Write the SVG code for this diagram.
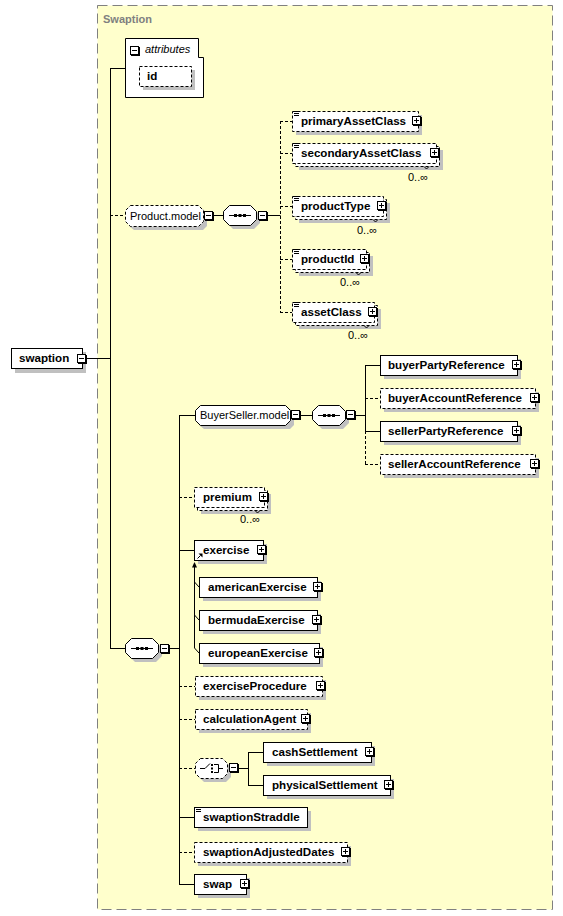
<svg xmlns="http://www.w3.org/2000/svg" xmlns:xlink="http://www.w3.org/1999/xlink" width="563" height="916" viewBox="0 0 563 916">
<style>
.bg{fill:#FFFFCC;stroke:#808080;stroke-dasharray:10 5}
.b{fill:#fff;stroke:#000}
.o{stroke-dasharray:3 2}
.sh{fill:#C0C0C0}
.t{font-family:"Liberation Sans",Arial,sans-serif;font-size:11.6px;font-weight:bold;fill:#000}
.n{font-family:"Liberation Sans",Arial,sans-serif;font-size:11px;fill:#000}
.c{fill:none;stroke:#000}
.d{stroke-dasharray:3 2}
</style>
<defs>
<g id="pl"><rect x="1" y="1" width="9" height="9" fill="#000"/><rect x="0.5" y="0.5" width="8" height="8" fill="#fff" stroke="#000"/><path d="M2 4.5H7M4.5 2V7" stroke="#000"/></g>
<g id="mi"><rect x="1" y="1" width="9" height="9" fill="#000"/><rect x="0.5" y="0.5" width="8" height="8" fill="#fff" stroke="#000"/><path d="M2 4.5H7" stroke="#000"/></g>
<g id="eq"><path d="M2 0.5H7M2 2.5H7M2 4.5H7" stroke="#000"/></g>
<g id="seq"><path class="sh" d="M10 4H31L37 10V18L31 24H10L4 18V10Z"/><path class="b" d="M6.5 0.5H27.5L33.5 6.5V14.5L27.5 20.5H6.5L0.5 14.5V6.5Z"/><path d="M6 10.5H28" stroke="#000"/><rect x="11" y="9" width="3" height="3"/><rect x="15.5" y="9" width="3" height="3"/><rect x="20" y="9" width="3" height="3"/></g>
</defs>
<rect class="bg" x="97.5" y="5.5" width="455" height="904"/>
<text x="103" y="23" style="font-family:'Liberation Sans',Arial,sans-serif;font-size:11px;font-weight:bold;fill:#808080">Swaption</text>

<g id="connectors">
<path class="c" d="M86 358.5H110.5M110.5 68V648M110 68.5H125M110 648.5H125M213 215.5H223M267 215.5H280.5"/>
<path class="c d" d="M110 215.5H125M280.5 121V312M280 121.5H292M280 153.5H292M280 206.5H292M280 259.5H292M280 312.5H292"/>
<path class="c" d="M169 648.5H179.5M179.5 415V884M179 415.5H195M179 550.5H194M179 817.5H194M179 884.5H194"/>
<path class="c d" d="M179 497.5H194M179 686.5H195M179 719.5H195M179 768.5H195M179 852.5H194"/>
<path class="c" d="M300 415.5H312M355 415.5H365.5M365.5 365V431M365 365.5H380M365 431.5H380"/>
<path class="c d" d="M365.5 431V464M365 398.5H380M365 464.5H380"/>
<path class="c" d="M238 768.5H248.5M248.5 752V785M248 752.5H263M248 785.5H263"/>
<path d="M194.5 562L192 567.5H197Z" fill="#000"/>
<path class="c" d="M194.5 566V648M194.5 582L199 587M194.5 615L199 620M194.5 648L199 653"/>
</g>

<g id="swaption">
<rect class="sh" x="15" y="352" width="71" height="21"/>
<rect class="b" x="11.5" y="348.5" width="71" height="20"/>
<text class="t" x="19" y="362">swaption</text>
<use xlink:href="#mi" x="77" y="354"/>
</g>

<g id="attributes">
<path class="b" d="M125.5 38.5H198.5V57.5H203.5V97.5H125.5Z"/>
<use xlink:href="#mi" x="130" y="46"/>
<text class="n" x="145" y="53" font-style="italic">attributes</text>
<rect class="sh" x="143" y="70" width="52" height="20"/>
<rect class="b o" x="139.5" y="66.5" width="52" height="20"/>
<text class="t" x="147" y="80">id</text>
</g>

<g id="product-model">
<path class="sh" d="M134 209H203L207 214V226L203 230H134L129 226V214Z"/>
<path class="b o" d="M130.5 205.5H198.5L203.5 210.5V221.5L198.5 226.5H130.5L125.5 221.5V210.5Z"/>
<text class="n" x="130" y="220">Product.model</text>
<use xlink:href="#mi" x="204" y="211"/>
<use xlink:href="#seq" x="223" y="205"/>
<use xlink:href="#mi" x="258" y="211"/>
</g>

<g id="primaryAssetClass">
<rect class="sh" x="296" y="115" width="126" height="20"/>
<rect class="b o" x="292.5" y="111.5" width="126" height="20"/>
<use xlink:href="#eq" x="292" y="111"/>
<text class="t" x="301" y="125">primaryAssetClass</text>
<use xlink:href="#pl" x="412" y="116"/>
</g>

<g id="secondaryAssetClass">
<rect class="sh" x="299" y="150" width="144" height="20"/>
<rect class="b o" x="295.5" y="146.5" width="144" height="20"/>
<rect class="b o" x="292.5" y="143.5" width="144" height="20"/>
<use xlink:href="#eq" x="292" y="143"/>
<text class="t" x="301" y="157">secondaryAssetClass</text>
<use xlink:href="#pl" x="430" y="148"/>
<path class="c" d="M424 166.5L426.5 169L429 166.5"/>
<text class="n" x="408" y="181">0..∞</text>
</g>

<g id="productType">
<rect class="sh" x="299" y="203" width="91" height="20"/>
<rect class="b o" x="295.5" y="199.5" width="91" height="20"/>
<rect class="b o" x="292.5" y="196.5" width="91" height="20"/>
<use xlink:href="#eq" x="292" y="196"/>
<text class="t" x="301" y="210">productType</text>
<use xlink:href="#pl" x="377" y="201"/>
<path class="c" d="M373 219.5L375.5 222L378 219.5"/>
<text class="n" x="357" y="234">0..∞</text>
</g>

<g id="productId">
<rect class="sh" x="299" y="256" width="74" height="20"/>
<rect class="b o" x="295.5" y="252.5" width="74" height="20"/>
<rect class="b o" x="292.5" y="249.5" width="74" height="20"/>
<use xlink:href="#eq" x="292" y="249"/>
<text class="t" x="301" y="263">productId</text>
<use xlink:href="#pl" x="360" y="254"/>
<path class="c" d="M356 272.5L358.5 275L361 272.5"/>
<text class="n" x="340" y="286">0..∞</text>
</g>

<g id="assetClass">
<rect class="sh" x="299" y="309" width="82" height="20"/>
<rect class="b o" x="295.5" y="305.5" width="82" height="20"/>
<rect class="b o" x="292.5" y="302.5" width="82" height="20"/>
<use xlink:href="#eq" x="292" y="302"/>
<text class="t" x="301" y="316">assetClass</text>
<use xlink:href="#pl" x="368" y="307"/>
<path class="c" d="M364 325.5L366.5 328L369 325.5"/>
<text class="n" x="348" y="339">0..∞</text>
</g>

<g id="sequence-main">
<use xlink:href="#seq" x="125" y="638"/>
<use xlink:href="#mi" x="160" y="644"/>
</g>

<g id="buyerseller-model">
<path class="sh" d="M204 409H290L294 414V425L290 429H204L199 425V414Z"/>
<path class="b" d="M200.5 405.5H285.5L290.5 410.5V420.5L285.5 425.5H200.5L195.5 420.5V410.5Z"/>
<text class="n" x="200" y="419">BuyerSeller.model</text>
<use xlink:href="#mi" x="291" y="410"/>
<use xlink:href="#seq" x="312" y="405"/>
<use xlink:href="#mi" x="346" y="410"/>
</g>

<g id="buyerPartyReference">
<rect class="sh" x="384" y="359" width="137" height="20"/>
<rect class="b" x="380.5" y="355.5" width="137" height="20"/>
<text class="t" x="388" y="369">buyerPartyReference</text>
<use xlink:href="#pl" x="512" y="360"/>
</g>
<g id="buyerAccountReference">
<rect class="sh" x="384" y="392" width="155" height="20"/>
<rect class="b o" x="380.5" y="388.5" width="155" height="20"/>
<text class="t" x="388" y="402">buyerAccountReference</text>
<use xlink:href="#pl" x="530" y="393"/>
</g>
<g id="sellerPartyReference">
<rect class="sh" x="384" y="425" width="137" height="20"/>
<rect class="b" x="380.5" y="421.5" width="137" height="20"/>
<text class="t" x="388" y="435">sellerPartyReference</text>
<use xlink:href="#pl" x="512" y="426"/>
</g>
<g id="sellerAccountReference">
<rect class="sh" x="384" y="458" width="155" height="20"/>
<rect class="b o" x="380.5" y="454.5" width="155" height="20"/>
<text class="t" x="388" y="468">sellerAccountReference</text>
<use xlink:href="#pl" x="530" y="459"/>
</g>

<g id="premium">
<rect class="sh" x="201" y="494" width="70" height="20"/>
<rect class="b o" x="197.5" y="490.5" width="70" height="20"/>
<rect class="b o" x="194.5" y="487.5" width="70" height="20"/>
<text class="t" x="203" y="501">premium</text>
<use xlink:href="#pl" x="259" y="492"/>
<path class="c" d="M255 510.5L257.5 513L260 510.5"/>
<text class="n" x="240" y="523">0..∞</text>
</g>

<g id="exercise">
<rect class="sh" x="198" y="544" width="69" height="20"/>
<rect class="b" x="194.5" y="540.5" width="69" height="20"/>
<text class="t" x="203" y="554">exercise</text>
<path d="M197.5 558.5L200.5 555.5" stroke="#000"/>
<path d="M198.5 553.5H202.5V557.5Z" fill="#000"/>
<use xlink:href="#pl" x="257" y="545"/>
</g>

<g id="americanExercise">
<rect class="sh" x="203" y="581" width="118" height="20"/>
<rect class="b" x="199.5" y="577.5" width="118" height="20"/>
<text class="t" x="208" y="591">americanExercise</text>
<use xlink:href="#pl" x="313" y="582"/>
</g>
<g id="bermudaExercise">
<rect class="sh" x="203" y="614" width="118" height="20"/>
<rect class="b" x="199.5" y="610.5" width="118" height="20"/>
<text class="t" x="208" y="624">bermudaExercise</text>
<use xlink:href="#pl" x="312" y="615"/>
</g>
<g id="europeanExercise">
<rect class="sh" x="203" y="647" width="120" height="20"/>
<rect class="b" x="199.5" y="643.5" width="120" height="20"/>
<text class="t" x="208" y="657">europeanExercise</text>
<use xlink:href="#pl" x="314" y="648"/>
</g>

<g id="exerciseProcedure">
<rect class="sh" x="199" y="680" width="127" height="20"/>
<rect class="b o" x="195.5" y="676.5" width="127" height="20"/>
<text class="t" x="203" y="690">exerciseProcedure</text>
<use xlink:href="#pl" x="316" y="681"/>
</g>
<g id="calculationAgent">
<rect class="sh" x="199" y="713" width="112" height="20"/>
<rect class="b o" x="195.5" y="709.5" width="112" height="20"/>
<text class="t" x="203" y="723">calculationAgent</text>
<use xlink:href="#pl" x="301" y="714"/>
</g>

<g id="choice">
<path class="sh" d="M204 762H226L231 767V777L226 782H204L199 777V767Z"/>
<path class="b o" d="M200.5 758.5H222.5L227.5 763.5V773.5L222.5 778.5H200.5L195.5 773.5V763.5Z"/>
<path class="c" d="M200 768.5H205L210 763.5M214 764.5H218.5V772.5H214M218.5 768.5H223"/>
<rect x="211" y="764" width="2" height="2"/>
<rect x="211" y="767.5" width="2" height="2"/>
<rect x="211" y="771" width="2" height="2"/>
<use xlink:href="#mi" x="229" y="763"/>
</g>

<g id="cashSettlement">
<rect class="sh" x="267" y="746" width="108" height="20"/>
<rect class="b" x="263.5" y="742.5" width="108" height="20"/>
<text class="t" x="272" y="756">cashSettlement</text>
<use xlink:href="#pl" x="365" y="747"/>
</g>
<g id="physicalSettlement">
<rect class="sh" x="267" y="779" width="127" height="20"/>
<rect class="b" x="263.5" y="775.5" width="127" height="20"/>
<text class="t" x="272" y="789">physicalSettlement</text>
<use xlink:href="#pl" x="384" y="780"/>
</g>

<g id="swaptionStraddle">
<rect class="sh" x="198" y="811" width="113" height="20"/>
<rect class="b" x="194.5" y="807.5" width="113" height="20"/>
<use xlink:href="#eq" x="194" y="807"/>
<text class="t" x="203" y="821">swaptionStraddle</text>
</g>
<g id="swaptionAdjustedDates">
<rect class="sh" x="198" y="846" width="153" height="20"/>
<rect class="b o" x="194.5" y="842.5" width="153" height="20"/>
<text class="t" x="203" y="856">swaptionAdjustedDates</text>
<use xlink:href="#pl" x="341" y="847"/>
</g>
<g id="swap">
<rect class="sh" x="198" y="878" width="52" height="20"/>
<rect class="b" x="194.5" y="874.5" width="52" height="20"/>
<text class="t" x="203" y="888">swap</text>
<use xlink:href="#pl" x="240" y="879"/>
</g>
</svg>
